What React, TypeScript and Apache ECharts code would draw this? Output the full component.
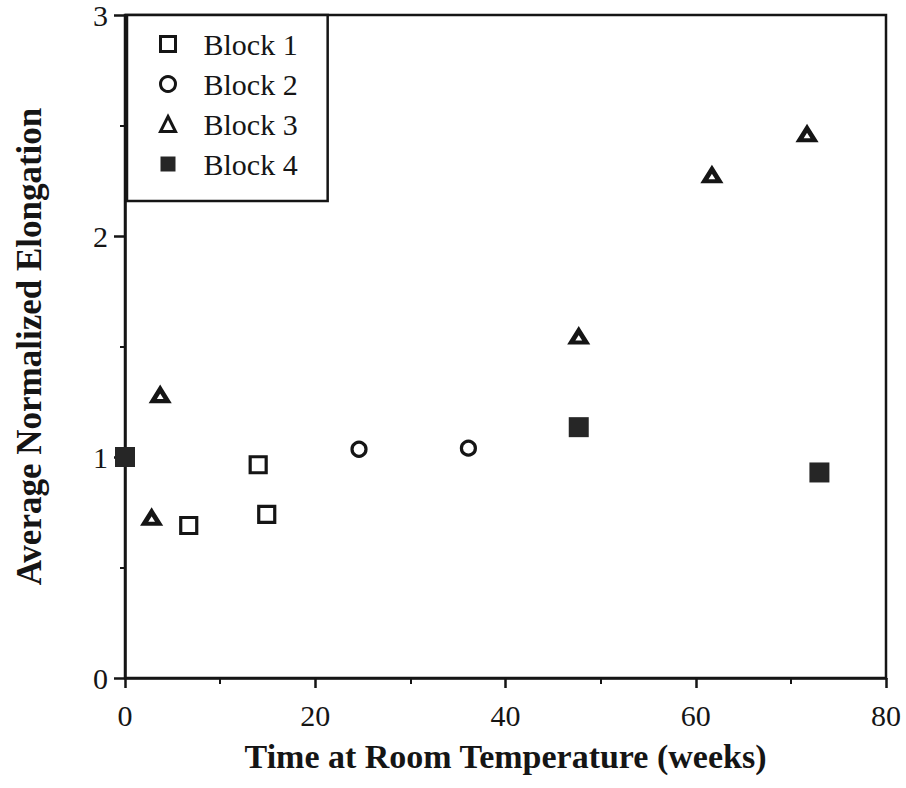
import React, { useEffect, useRef } from "react";
import * as echarts from "echarts";

const seriesNames = ["Block 1", "Block 2", "Block 3", "Block 4"];
const block1: [number, number][] = [[6.7, 0.69], [14.0, 0.965], [14.9, 0.74]];
const block2: [number, number][] = [[24.6, 1.035], [36.1, 1.04]];
const block3: [number, number][] = [[2.8, 0.725], [3.7, 1.28], [47.7, 1.545], [61.7, 2.275], [71.7, 2.46]];
const block4: [number, number][] = [[0, 1.0], [47.7, 1.135], [73.0, 0.93]];
const xTicks = { min: 0, max: 80, interval: 20 };
const yTicks = { min: 0, max: 3, interval: 1 };
const xTitle = "Time at Room Temperature (weeks)";
const yTitle = "Average Normalized Elongation";

const INK = "#151515";
const FONT = "'Liberation Serif', 'Times New Roman', serif";

export default function App() {
  const ref = useRef<HTMLDivElement>(null);
  useEffect(() => {
    if (!ref.current) return;
    const chart = echarts.init(ref.current, null, { renderer: "svg" });
    const open = { color: "#ffffff", borderColor: INK, borderWidth: 3.2, opacity: 1 };
    chart.setOption({
      animation: false,
      backgroundColor: "#ffffff",
      textStyle: { fontFamily: FONT, color: INK },
      grid: {
        left: 125,
        right: 20,
        top: 15,
        bottom: 110,
        show: true,
        borderColor: INK,
        borderWidth: 2.5,
        backgroundColor: "transparent",
      },
      legend: {
        orient: "vertical",
        left: 127,
        top: 15,
        padding: [14, 30, 22, 32],
        itemWidth: 15,
        itemHeight: 15,
        itemGap: 10,
        symbolKeepAspect: true,
        borderColor: INK,
        borderWidth: 2.5,
        backgroundColor: "#ffffff",
        itemStyle: { borderWidth: 3 },
        textStyle: { fontFamily: FONT, fontSize: 30, color: INK, lineHeight: 30, padding: [0, 0, 0, 23] },
        data: seriesNames,
      },
      xAxis: {
        type: "value",
        min: xTicks.min,
        max: xTicks.max,
        interval: xTicks.interval,
        name: xTitle,
        nameLocation: "middle",
        nameGap: 61,
        nameTextStyle: { fontFamily: FONT, fontSize: 34, fontWeight: "bold", color: INK },
        axisLine: { show: true, lineStyle: { color: INK, width: 2.5 } },
        axisTick: { show: true, length: 10, lineStyle: { color: INK, width: 2.5 } },
        minorTick: { show: true, splitNumber: 2, length: 6, lineStyle: { color: INK, width: 2 } },
        axisLabel: { fontFamily: FONT, fontSize: 30, color: INK, margin: 22 },
        splitLine: { show: false },
      },
      yAxis: {
        type: "value",
        min: yTicks.min,
        max: yTicks.max,
        interval: yTicks.interval,
        name: yTitle,
        nameLocation: "middle",
        nameGap: 78,
        nameTextStyle: { fontFamily: FONT, fontSize: 35, fontWeight: "bold", color: INK },
        axisLine: { show: true, lineStyle: { color: INK, width: 2.5 } },
        axisTick: { show: true, length: 11, lineStyle: { color: INK, width: 2.5 } },
        minorTick: { show: true, splitNumber: 2, length: 5, lineStyle: { color: INK, width: 2 } },
        axisLabel: { fontFamily: FONT, fontSize: 30, color: INK, margin: 17 },
        splitLine: { show: false },
      },
      series: [
        {
          name: seriesNames[0],
          type: "scatter",
          clip: false,
          symbol: "rect",
          symbolSize: 16,
          itemStyle: open,
          data: block1,
        },
        {
          name: seriesNames[1],
          type: "scatter",
          clip: false,
          symbol: "circle",
          symbolSize: 14,
          itemStyle: open,
          data: block2,
        },
        {
          name: seriesNames[2],
          type: "scatter",
          clip: false,
          symbol: "triangle",
          symbolSize: [15, 12],
          itemStyle: { color: "#ffffff", borderColor: INK, borderWidth: 4.5, opacity: 1 },
          data: block3,
        },
        {
          name: seriesNames[3],
          type: "scatter",
          clip: false,
          symbol: "rect",
          symbolSize: 20,
          itemStyle: { color: "#262626", opacity: 1 },
          data: block4,
        },
      ],
    });
    return () => chart.dispose();
  }, []);
  return (
    <div
      ref={ref}
      style={{ position: "absolute", left: 0, top: 0, width: 906, height: 788 }}
    />
  );
}
